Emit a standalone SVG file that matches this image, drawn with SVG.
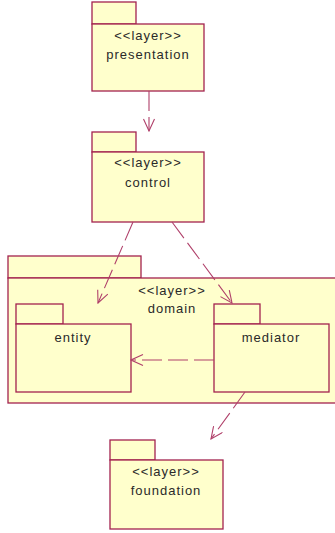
<svg xmlns="http://www.w3.org/2000/svg" width="335" height="533" viewBox="0 0 335 533">
  <style>
    .pkg rect { fill: #FFFFCC; stroke: #A3234F; stroke-width: 1.3; }
    .lbl { font-family: "Liberation Sans", Arial, sans-serif; font-size: 13px; fill: #2a2a2a; text-anchor: middle; letter-spacing: 1px; }
    .dep { fill: none; stroke: #B0406A; stroke-width: 1.1; stroke-dasharray: 20 6; marker-end: url(#open); }
  </style>
  <defs>
    <marker id="open" viewBox="0 0 14 12" refX="13" refY="6" markerWidth="14" markerHeight="12" markerUnits="userSpaceOnUse" orient="auto">
      <path d="M1 0.5 L13 6 L1 11.5" fill="none" stroke="#B0406A" stroke-width="1.1"/>
    </marker>
  </defs>

  <rect width="335" height="533" fill="#FFFFFF"/>

  <g id="presentation" class="pkg">
    <rect x="92" y="2" width="44" height="22"/>
    <rect x="92" y="24" width="112" height="67"/>
    <text class="lbl" x="148" y="40">&lt;&lt;layer&gt;&gt;</text>
    <text class="lbl" x="148" y="59">presentation</text>
  </g>

  <g id="control" class="pkg">
    <rect x="92" y="132" width="44" height="20"/>
    <rect x="92" y="152" width="112" height="70"/>
    <text class="lbl" x="148" y="167">&lt;&lt;layer&gt;&gt;</text>
    <text class="lbl" x="148" y="187">control</text>
  </g>

  <g id="domain" class="pkg">
    <rect x="8" y="256" width="133" height="22"/>
    <rect x="8" y="278" width="330" height="125"/>
    <text class="lbl" x="172" y="295">&lt;&lt;layer&gt;&gt;</text>
    <text class="lbl" x="172" y="313">domain</text>
  </g>

  <g id="entity" class="pkg">
    <rect x="16" y="304" width="47" height="20"/>
    <rect x="16" y="324" width="115" height="68"/>
    <text class="lbl" x="73" y="342">entity</text>
  </g>

  <g id="mediator" class="pkg">
    <rect x="214" y="304" width="46" height="20"/>
    <rect x="214" y="324" width="115" height="68"/>
    <text class="lbl" x="271" y="342">mediator</text>
  </g>

  <g id="foundation" class="pkg">
    <rect x="110" y="440" width="45" height="20"/>
    <rect x="110" y="460" width="113" height="69"/>
    <text class="lbl" x="166" y="476">&lt;&lt;layer&gt;&gt;</text>
    <text class="lbl" x="166" y="495">foundation</text>
  </g>

  <g id="connectors">
    <line class="dep" x1="149" y1="91" x2="149" y2="131"/>
    <line class="dep" x1="133" y1="222" x2="98" y2="303"/>
    <line class="dep" x1="172" y1="222" x2="232" y2="303"/>
    <line class="dep" x1="214" y1="360" x2="131" y2="360"/>
    <line class="dep" x1="245" y1="392" x2="211" y2="439"/>
  </g>
</svg>
